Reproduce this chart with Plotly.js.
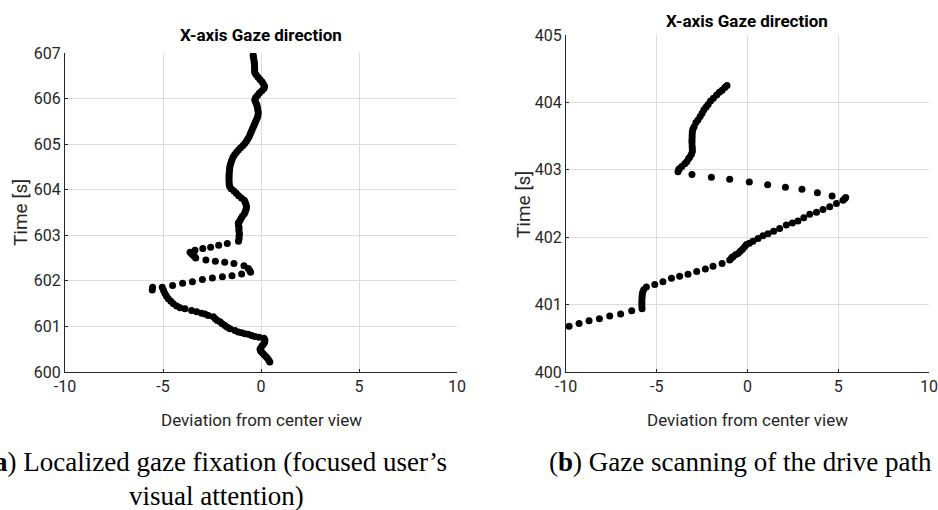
<!DOCTYPE html>
<html>
<head>
<meta charset="utf-8">
<script src="https://cdn.plot.ly/plotly-3.0.1.min.js"></script>
<style>html,body{margin:0;padding:0;background:#fff;overflow:hidden;}#chart{width:938px;height:510px;}</style>
</head>
<body>
<div id="chart"></div>
<script>
// ---- Data ----
// Panel (a): Localized gaze fixation
const leftDeviation = [
  0.45, 0.40, 0.33, 0.25, 0.16, 0.07, -0.02, -0.05, 0.00, 0.07, 0.14, 0.19, 0.20, 0.15,
  -0.10, -0.31, -0.48, -0.65, -0.82, -0.99, -1.16, -1.33, -1.58, -1.72, -1.84, -1.98,
  -2.09, -2.23, -2.33, -2.43, -2.69, -2.86, -3.03, -3.28, -3.54, -3.88, -4.13, -4.30,
  -4.47, -4.60, -4.73, -4.82, -4.90, -4.97, -5.04, -5.55, -5.53,
  -4.51, -4.00, -3.50, -2.99, -2.48, -1.97, -1.48, -0.99, -0.53, -0.58, -0.65, -0.87,
  -1.38, -1.85, -2.33, -2.81, -3.33, -3.40, -3.48, -3.55, -3.62, -3.37, -2.97, -2.57,
  -2.16, -1.72,
  -1.15, -1.12, -1.12, -1.10, -1.12, -1.13, -1.12, -1.15, -1.16, -1.08, -1.02, -0.95,
  -0.85, -0.80, -0.76, -0.74, -0.76, -0.80, -0.85, -1.00, -1.14, -1.26, -1.38, -1.52,
  -1.60, -1.62, -1.63, -1.63, -1.63, -1.63, -1.62, -1.61, -1.60, -1.58, -1.55, -1.51,
  -1.47, -1.42, -1.34, -1.25, -1.15, -1.04, -0.92, -0.82, -0.74, -0.67, -0.60, -0.55,
  -0.50, -0.45, -0.40, -0.35, -0.30, -0.25, -0.20, -0.16, -0.14, -0.15, -0.17, -0.19,
  -0.22, -0.27, -0.32, -0.28, -0.18, -0.08, 0.04, 0.15, 0.18, 0.12, 0.05, -0.05,
  -0.15, -0.25, -0.32, -0.32, -0.33, -0.33, -0.34, -0.35, -0.37, -0.39, -0.40
];
const leftTime = [
  600.22, 600.26, 600.30, 600.34, 600.38, 600.42, 600.46, 600.50, 600.54, 600.58, 600.62, 600.66, 600.70, 600.74,
  600.76, 600.78, 600.80, 600.83, 600.84, 600.86, 600.88, 600.91, 600.95, 600.98, 601.02, 601.06,
  601.10, 601.13, 601.17, 601.21, 601.24, 601.27, 601.29, 601.32, 601.35, 601.39, 601.41, 601.45,
  601.50, 601.55, 601.61, 601.66, 601.72, 601.79, 601.86, 601.80, 601.86,
  601.90, 601.95, 601.98, 602.03, 602.06, 602.09, 602.11, 602.15, 602.19, 602.23, 602.27, 602.33,
  602.38, 602.41, 602.43, 602.46, 602.50, 602.54, 602.57, 602.60, 602.63, 602.67, 602.71, 602.74,
  602.78, 602.82,
  602.87, 602.92, 602.97, 603.02, 603.07, 603.12, 603.17, 603.22, 603.27, 603.32, 603.37, 603.42,
  603.47, 603.52, 603.57, 603.62, 603.67, 603.72, 603.77, 603.82, 603.87, 603.92, 603.97, 604.02,
  604.07, 604.12, 604.17, 604.22, 604.27, 604.32, 604.37, 604.42, 604.47, 604.52, 604.57, 604.62,
  604.67, 604.72, 604.77, 604.82, 604.87, 604.92, 604.97, 605.02, 605.07, 605.12, 605.17, 605.22,
  605.27, 605.32, 605.37, 605.42, 605.47, 605.52, 605.57, 605.62, 605.67, 605.72, 605.77, 605.82,
  605.87, 605.92, 605.97, 606.02, 606.07, 606.12, 606.17, 606.22, 606.27, 606.32, 606.37, 606.42,
  606.47, 606.52, 606.57, 606.62, 606.67, 606.72, 606.77, 606.82, 606.87, 606.92, 606.95
];

// Panel (b): Gaze scanning of the drive path
const rightDeviation = [
  -9.83, -9.28, -8.73, -8.16, -7.59, -6.99, -6.38, -5.81, -5.82, -5.82, -5.82, -5.81,
  -5.80, -5.78, -5.72, -5.57, -5.11, -4.66, -4.19, -3.74, -3.28, -2.80, -2.32, -1.90,
  -1.40, -0.98, -0.88, -0.80, -0.66, -0.52, -0.40, -0.28, -0.16, -0.06, 0.10, 0.30,
  0.58, 0.85, 1.13, 1.44, 1.77, 2.14, 2.47, 2.78, 3.10, 3.43, 3.80, 4.16, 4.53, 4.90,
  5.26, 5.35, 5.41,
  4.66, 3.85, 3.00, 2.09, 1.11, 0.10, -0.98, -1.99, -3.06, -3.83,
  -3.80, -3.74, -3.62, -3.46, -3.35, -3.26, -3.18, -3.09, -3.04, -3.04, -3.05, -3.06,
  -3.06, -3.05, -3.05, -3.04, -3.01, -2.94, -2.84, -2.73, -2.61, -2.50, -2.40, -2.28,
  -2.17, -2.04, -1.88, -1.70, -1.55, -1.40, -1.25, -1.13
];
const rightTime = [
  400.68, 400.72, 400.76, 400.79, 400.83, 400.86, 400.91, 400.94, 400.98, 401.02, 401.06, 401.10,
  401.14, 401.18, 401.22, 401.26, 401.30, 401.34, 401.39, 401.42, 401.45, 401.49, 401.53, 401.57,
  401.61, 401.66, 401.69, 401.71, 401.74, 401.76, 401.79, 401.82, 401.86, 401.89, 401.91, 401.94,
  401.98, 402.02, 402.05, 402.09, 402.13, 402.18, 402.21, 402.24, 402.29, 402.34, 402.37, 402.41, 402.45, 402.50,
  402.55, 402.57, 402.59,
  402.61, 402.66, 402.71, 402.74, 402.78, 402.82, 402.86, 402.89, 402.93, 402.97,
  403.00, 403.02, 403.05, 403.09, 403.12, 403.16, 403.19, 403.23, 403.27, 403.31, 403.35, 403.40,
  403.44, 403.48, 403.52, 403.56, 403.60, 403.64, 403.70, 403.74, 403.79, 403.84, 403.89, 403.93,
  403.97, 404.02, 404.06, 404.11, 404.15, 404.18, 404.22, 404.25
];

const xTicks = [-10, -5, 0, 5, 10];
const leftYTicks = [600, 601, 602, 603, 604, 605, 606, 607];
const rightYTicks = [400, 401, 402, 403, 404, 405];
const panelTitle = "X-axis Gaze direction";
const xLabel = "Deviation from center view";
const yLabel = "Time [s]";
const captionA1 = "(<b>a</b>) Localized gaze fixation (focused user\u2019s";
const captionA2 = "visual attention)";
const captionB = "(<b>b</b>) Gaze scanning of the drive path";

// ---- Styling ----
const W = 938, H = 510;
const sans = "Roboto, 'Liberation Sans', sans-serif";
const serif = "'Liberation Serif', 'DejaVu Serif', serif";
const axisColor = "#262626";
const gridColor = "#dcdcdc";
const px = v => v / W;
const py = v => 1 - v / H;

const marker = {color: "#000000", size: 7, line: {width: 0}};

const traces = [
  {x: leftDeviation, y: leftTime, type: "scatter", mode: "markers", marker: marker, xaxis: "x", yaxis: "y", hoverinfo: "x+y"},
  {x: rightDeviation, y: rightTime, type: "scatter", mode: "markers", marker: marker, xaxis: "x2", yaxis: "y2", hoverinfo: "x+y"}
];

function axisBase(ticks, range) {
  return {
    range: range, tickvals: ticks, ticktext: ticks.map(String),
    showline: true, linecolor: axisColor, linewidth: 1, mirror: false,
    showgrid: true, gridcolor: gridColor, gridwidth: 1, zeroline: false,
    ticks: "inside", ticklen: 3, tickcolor: axisColor,
    tickfont: {family: sans, size: 16, color: axisColor},
    fixedrange: true
  };
}

const layout = {
  width: W, height: H,
  margin: {l: 0, r: 0, t: 0, b: 0},
  paper_bgcolor: "#ffffff", plot_bgcolor: "#ffffff",
  showlegend: false,
  xaxis: Object.assign(axisBase(xTicks, [-10, 10]), {domain: [px(65), px(457)], anchor: "y"}),
  yaxis: Object.assign(axisBase(leftYTicks, [600, 607]), {domain: [py(372), py(53)], anchor: "x"}),
  xaxis2: Object.assign(axisBase(xTicks, [-10, 10]), {domain: [px(566), px(929)], anchor: "y2"}),
  yaxis2: Object.assign(axisBase(rightYTicks, [400, 405]), {domain: [py(372), py(35)], anchor: "x2"}),
  annotations: [
    {text: "<b>" + panelTitle + "</b>", xref: "paper", yref: "paper", x: px(261), y: py(35), xanchor: "center", yanchor: "middle", showarrow: false, font: {family: sans, size: 17, color: "#000"}},
    {text: "<b>" + panelTitle + "</b>", xref: "paper", yref: "paper", x: px(747), y: py(21), xanchor: "center", yanchor: "middle", showarrow: false, font: {family: sans, size: 17, color: "#000"}},
    {text: xLabel, xref: "paper", yref: "paper", x: px(261), y: py(420), xanchor: "center", yanchor: "middle", showarrow: false, font: {family: sans, size: 17, color: axisColor}},
    {text: xLabel, xref: "paper", yref: "paper", x: px(747), y: py(420), xanchor: "center", yanchor: "middle", showarrow: false, font: {family: sans, size: 17, color: axisColor}},
    {text: yLabel, xref: "paper", yref: "paper", x: px(20), y: py(213), xanchor: "center", yanchor: "middle", textangle: -90, showarrow: false, font: {family: sans, size: 19, color: axisColor}},
    {text: yLabel, xref: "paper", yref: "paper", x: px(523), y: py(205), xanchor: "center", yanchor: "middle", textangle: -90, showarrow: false, font: {family: sans, size: 19, color: axisColor}},
    {text: captionA1, xref: "paper", yref: "paper", x: px(216), y: py(462), xanchor: "center", yanchor: "middle", showarrow: false, font: {family: serif, size: 27, color: "#000"}},
    {text: captionA2, xref: "paper", yref: "paper", x: px(216), y: py(496), xanchor: "center", yanchor: "middle", showarrow: false, font: {family: serif, size: 27, color: "#000"}},
    {text: captionB, xref: "paper", yref: "paper", x: px(740), y: py(462), xanchor: "center", yanchor: "middle", showarrow: false, font: {family: serif, size: 27, color: "#000"}}
  ]
};

Plotly.newPlot("chart", traces, layout, {displayModeBar: false, staticPlot: true});
</script>
</body>
</html>
